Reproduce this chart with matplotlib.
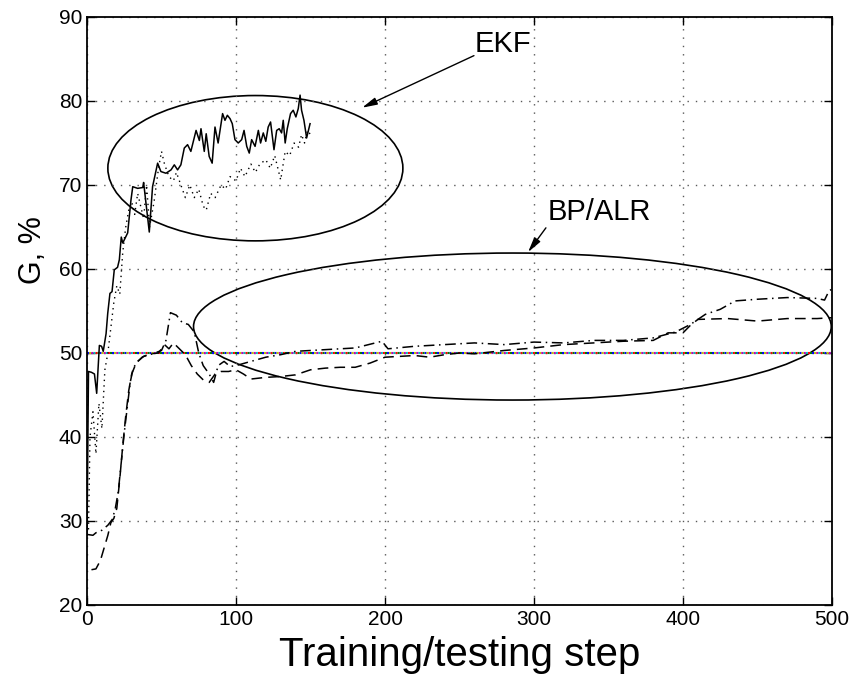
import numpy as np
import matplotlib.pyplot as plt
from matplotlib.patches import Ellipse

plt.rcParams['font.family'] = ['Liberation Sans', 'DejaVu Sans']

# EKF, solid line (training)
ekf_x = [0, 1, 3, 5, 6.5, 8.3, 9.8, 10.9, 12.8, 13.9, 15.4, 16.8, 18.3, 20.5, 21.7, 23, 24,
         27.3, 29.5, 30.7, 34, 37.4, 38, 41.8, 44, 47.4, 49.6, 53, 56.4, 58.6, 60.8, 63,
         65.3, 67.5, 69.7, 73.2, 75.4, 76.5, 78.7, 80, 82, 84, 85.9, 88, 91, 92.6, 94.2,
         96, 97.5, 99.3, 101.5, 103.8, 105.4, 107.2, 108.9, 110.5, 112.8, 115, 116.5, 118.3,
         120, 121.6, 123.2, 125.5, 127.3, 129, 130.6, 131.7, 133, 134.4, 136.6, 138.4,
         140.2, 141.8, 143, 144, 145.6, 147.4, 149.7]
ekf_y = [28.3, 47.8, 47.7, 47.5, 45.2, 50.9, 50.8, 50.2, 52.3, 54.7, 57.1, 57.3, 59.9, 60.2,
         61.1, 63.8, 63.1, 64.3, 68.2, 69.8, 69.6, 69.7, 70.3, 64.4, 69.8, 72.6, 71.6, 71.4,
         71.8, 72.4, 71.8, 72.4, 74.4, 74.8, 74.0, 76.5, 75.3, 76.7, 74.0, 76.1, 73.4, 72.6,
         76.9, 75.0, 78.5, 77.7, 78.3, 77.9, 77.3, 75.4, 75.0, 75.4, 76.5, 74.6, 73.8, 75.4,
         74.6, 76.5, 75.0, 76.2, 75.2, 76.9, 77.5, 74.2, 76.5, 76.7, 76.2, 77.7, 75.0, 76.7,
         78.5, 78.9, 78.1, 79.1, 80.7, 78.9, 77.7, 75.6, 77.3]

# EKF, dotted line (testing)
ekft_x = [1, 2, 4, 6, 8, 10, 12, 14, 16, 18, 20, 22, 24, 26, 28, 30, 32, 34, 36, 38, 40, 42,
          45, 48, 50, 52, 55, 58, 60, 63, 66, 69, 72, 75, 78, 80, 83, 86, 90, 93, 96, 100,
          103, 106, 110, 113, 116, 120, 123, 126, 130, 133, 136, 139, 142, 144, 146, 148, 150]
ekft_y = [29, 40, 43, 38, 44, 41, 48, 50, 53, 56, 58, 57, 62, 65, 67, 68, 66.5, 69, 67.5,
          66, 70, 65, 68, 72, 74, 72.5, 71, 70.5, 71.5, 70, 68.5, 70, 68.5, 69.5, 67.5, 67,
          69, 68.5, 70, 69.5, 71, 70.5, 72, 71, 72.5, 71.5, 72.5, 73, 72, 73.5, 70.6, 74,
          73.5, 75, 74.5, 76, 75, 76.5, 76]

# BP/ALR, dashed line
bpd_x = [3, 6, 9, 11, 14, 16, 18, 20, 22, 24, 26, 28, 30, 33, 37, 42, 48, 52, 55, 58, 62,
         66, 70, 74, 78, 82, 86, 90, 95, 100, 105, 110, 120, 130, 140, 150, 160, 170, 180,
         190, 200, 210, 220, 230, 240, 250, 260, 270, 280, 300, 320, 340, 360, 380, 390,
         400, 405, 410, 430, 450, 470, 490, 500]
bpd_y = [24.2, 24.3, 25.3, 26.5, 28.3, 29.8, 30.3, 31.5, 35, 39, 42.5, 45.5, 47.5, 48.8,
         49.5, 49.9, 50.0, 51.0, 50.5, 51.2, 50.5, 49.8, 48.5, 47.5, 46.8, 46.5, 47.5, 47.8,
         47.8, 48.0, 47.5, 46.9, 47.1, 47.2, 47.4, 48.0, 48.2, 48.3, 48.3, 48.8, 49.5, 49.6,
         49.7, 49.5, 49.8, 50.0, 49.9, 50.1, 50.3, 50.6, 51.0, 51.2, 51.4, 51.5, 52.4, 52.4,
         53.3, 54.0, 54.1, 53.8, 54.1, 54.1, 54.2]

# BP/ALR, dash-dot line
bpa_x = [0, 4, 6, 10, 14, 17, 19, 21, 23, 25, 27, 29, 31, 34, 38, 44, 50, 53, 56, 60, 64,
         68, 72, 75, 78, 82, 85, 88, 92, 96, 100, 110, 120, 130, 140, 160, 180, 198, 202,
         220, 240, 260, 280, 300, 320, 340, 360, 380, 395, 405, 415, 425, 435, 450, 470,
         490, 495, 498, 500]
bpa_y = [28.4, 28.3, 28.6, 28.9, 29.5, 30.2, 31.5, 33.5, 37, 40.5, 43.5, 46.5, 48.2, 49,
         49.6, 49.9, 50.3, 51.5, 54.8, 54.5, 53.6, 53.4, 52.5, 50, 48.5, 47.5, 46.5, 48.5,
         49, 48.4, 48.5, 49.0, 49.5, 49.8, 50.2, 50.4, 50.6, 51.4, 50.5, 50.8, 51, 51.2,
         51, 51.3, 51.2, 51.5, 51.5, 51.8, 52.5, 53.4, 54.6, 55.2, 56.2, 56.4, 56.6, 56.5,
         56.3, 57.4, 57.6]

# chance level
level_x = [0, 500]
level_y = [50, 50]

fig = plt.figure(figsize=(8.56, 6.78), dpi=100)
ax = fig.add_axes([87/856, 1 - 605/678, 745/856, 588/678])

# multicolour 50% line
for i, c in enumerate(['b', 'g', 'r', 'c', 'm', 'y']):
    ax.plot(level_x, level_y, color=c, lw=1.5, linestyle=(i, (1, 5)))

ax.plot(ekft_x, ekft_y, color='k', lw=1.0, linestyle=(0, (1, 3)))
ax.plot(ekf_x, ekf_y, color='k', lw=1.1)
ax.plot(bpd_x, bpd_y, color='k', lw=1.1, linestyle=(0, (7, 4)))
ax.plot(bpa_x, bpa_y, color='k', lw=1.1, linestyle=(0, (7, 3, 1, 3)))

# ellipses around groups
ax.add_patch(Ellipse((113, 72), 198, 17.3, fill=False, ec='k', lw=1.2))
ax.add_patch(Ellipse((285.5, 53.15), 428, 17.5, fill=False, ec='k', lw=1.2))

arrow = dict(arrowstyle='-|>,head_length=0.9,head_width=0.22', color='k', lw=1.0,
             shrinkA=0, shrinkB=0)
ax.text(260.4, 86.8, 'EKF', fontsize=21, ha='left', va='center')
ax.annotate('', xy=(184.6, 79.2), xytext=(259.7, 85.4), arrowprops=arrow)
ax.text(309.4, 66.8, 'BP/ALR', fontsize=21, ha='left', va='center')
ax.annotate('', xy=(296, 62.0), xytext=(308, 64.9), arrowprops=arrow)

ax.set_xlim(0, 500)
ax.set_ylim(20, 90)
ax.set_xticks([0, 100, 200, 300, 400, 500])
ax.set_yticks([20, 30, 40, 50, 60, 70, 80, 90])
ax.grid(True, color='0.35', linestyle=(0, (1, 5)), lw=1.0)
ax.tick_params(direction='in', top=True, right=True, length=6, labelsize=15, width=1)
for s in ax.spines.values():
    s.set_linewidth(1.3)

ax.set_xlabel('Training/testing step', fontsize=29)
ax.xaxis.set_label_coords(0.5, -0.052)
ax.set_ylabel('G, %', fontsize=22)
ax.yaxis.set_label_coords(-0.052, 0.604)

fig.savefig('out.png', dpi=100)
